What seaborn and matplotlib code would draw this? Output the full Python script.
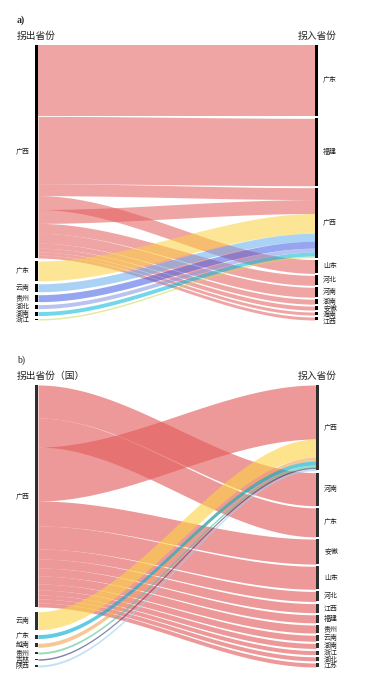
import numpy as np
import matplotlib.pyplot as plt
import seaborn as sns

sns.set_theme(style='white')
plt.rcParams['font.family'] = ['Noto Sans CJK SC', 'DejaVu Sans']

# ---- panel a: flows (source -> target, value) ----
a_left = ['广西', '广东', '云南', '贵州', '湖北', '湖南', '浙江']
a_right = ['广东', '福建', '广西', '山东', '河北', '河南', '湖南', '安徽', '海南', '江西']
a_src = ['广西', '广西', '广西', '广西', '广西', '广西', '广西', '广西', '广西', '广西', '广西',
         '广东', '云南', '贵州', '湖北', '湖南', '浙江']
a_tgt = ['广东', '福建', '广西', '山东', '广西', '河北', '河南', '湖南', '安徽', '海南', '江西',
         '广西', '广西', '广西', '广西', '广西', '广西']
a_val = [72, 68, 12, 14, 14, 10, 10, 5, 4, 3, 3,
         20, 8, 7, 4, 4, 1.5]
a_colors = {'广西': '#e45b5b', '广东': '#fad240', '云南': '#64aded', '贵州': '#405be4',
            '湖北': '#8092e4', '湖南': '#00b7db', '浙江': '#c8db52'}

# ---- panel b ----
b_left = ['广西', '云南', '广东', '越南', '贵州', '吉林', '陕西']
b_right = ['广西', '河南', '广东', '安徽', '山东', '河北', '江西', '福建', '贵州', '云南',
           '湖南', '浙江', '湖北', '江苏']
b_src = ['广西'] * 14 + ['云南', '越南', '广东', '贵州', '吉林', '陕西']
b_tgt = ['河南', '广东', '广西', '安徽', '山东', '河北', '江西', '福建', '贵州', '云南',
         '湖南', '浙江', '湖北', '江苏',
         '广西', '广西', '广西', '广西', '广西', '广西']
b_val = [33, 29, 54, 25, 23, 10, 9, 8, 8, 6, 5, 4, 4, 4,
         18, 4, 4, 2, 1.5, 2]
b_colors = {'广西': '#e25a5a', '云南': '#fcd346', '广东': '#00aecf', '越南': '#f4a656',
            '贵州': '#56c696', '吉林': '#353576', '陕西': '#9ecfef'}

W, Hpx = 370, 686
LABEL_SIZE = 5.0
MIN_GAP_PX = 6.6


def stack(order, sizes, pad):
    pos, y = {}, 0.0
    for n in order:
        pos[n] = y
        y += sizes[n] + pad
    return pos


def spread(ys, d, limit):
    # push label centres apart so they don't sit on top of each other
    ys = list(ys)
    for i in range(1, len(ys)):
        ys[i] = max(ys[i], ys[i - 1] + d)
    if ys[-1] > limit:
        ys[-1] = limit
        for i in range(len(ys) - 2, -1, -1):
            ys[i] = min(ys[i], ys[i + 1] - d)
    return ys


def draw_sankey(ax, left, right, src, tgt, val, colors, pad_left, alpha, bar_color, bw, h_px):
    lsize = {n: 0.0 for n in left}
    rsize = {n: 0.0 for n in right}
    for s, t, v in zip(src, tgt, val):
        lsize[s] += v
        rsize[t] += v
    total = sum(val)
    H = total + pad_left * (len(left) - 1)
    pad_right = (H - total) / (len(right) - 1)
    lpos = stack(left, lsize, pad_left)
    rpos = stack(right, rsize, pad_right)
    loff = dict(lpos)
    roff = dict(rpos)

    x = np.linspace(bw, 1 - bw, 300)
    s = (x - bw) / (1 - 2 * bw)
    ease = 3 * s ** 2 - 2 * s ** 3
    for sname, tname, v in zip(src, tgt, val):
        y0, y1 = loff[sname], roff[tname]
        top = y0 + (y1 - y0) * ease
        ax.fill_between(x, top, top + v, color=colors[sname], alpha=alpha, lw=0)
        loff[sname] += v
        roff[tname] += v

    ax.bar([bw / 2] * len(left), [lsize[n] for n in left], bottom=[lpos[n] for n in left],
           width=bw, color=bar_color, lw=0)
    ax.bar([1 - bw / 2] * len(right), [rsize[n] for n in right], bottom=[rpos[n] for n in right],
           width=bw, color=bar_color, lw=0)

    d = MIN_GAP_PX * H / h_px
    ly = spread([lpos[n] + lsize[n] / 2 for n in left], d, H + 0.5 * d)
    ry = spread([rpos[n] + rsize[n] / 2 for n in right], d, H + 0.5 * d)
    for n, y in zip(left, ly):
        ax.text(-0.018, y, n, ha='right', va='center', fontsize=LABEL_SIZE, color='#222222')
    for n, y in zip(right, ry):
        ax.text(1.018, y, n, ha='left', va='center', fontsize=LABEL_SIZE, color='#222222')
    ax.set_xlim(0, 1)
    ax.set_ylim(H, 0)
    ax.axis('off')


fig = plt.figure(figsize=(W / 100, Hpx / 100), dpi=100)


def px_axes(x0, y0, x1, y1):
    return fig.add_axes([x0 / W, 1 - y1 / Hpx, (x1 - x0) / W, (y1 - y0) / Hpx])


ax_a = px_axes(35, 45, 318, 320)
draw_sankey(ax_a, a_left, a_right, a_src, a_tgt, a_val, a_colors, 3.0, 0.55, 'black',
            3 / 283, 275)

ax_b = px_axes(35, 385, 319, 667)
draw_sankey(ax_b, b_left, b_right, b_src, b_tgt, b_val, b_colors, 4.75, 0.62, '#2e2e2e',
            3 / 284, 282)


def ftext(x, y, s, **kw):
    fig.text(x / W, 1 - y / Hpx, s, va='center', **kw)


ftext(17, 20, 'a)', fontsize=7, fontweight='bold', family='Liberation Serif')
ftext(17, 36, '拐出省份', fontsize=7, color='#222222')
ftext(337, 36, '拐入省份', fontsize=7, ha='right', color='#222222')
ftext(17, 360, 'b)', fontsize=7, family='Liberation Serif')
ftext(17, 376, '拐出省份（国）', fontsize=7, color='#222222')
ftext(337, 376, '拐入省份', fontsize=7, ha='right', color='#222222')

fig.savefig('out.png', dpi=100)
